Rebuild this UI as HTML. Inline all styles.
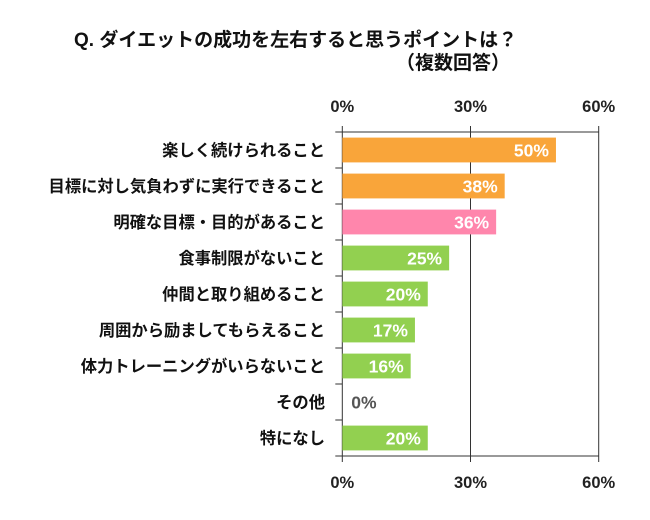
<!DOCTYPE html>
<html><head><meta charset="utf-8"><style>
body{margin:0;background:#fff;}
svg text{font-family:"Liberation Sans","Noto Sans CJK JP",sans-serif;font-weight:bold;}
</style></head><body>
<svg width="650" height="515">
<text x="74" y="46" font-size="19" fill="#111">Q. ダイエットの成功を左右すると思うポイントは？</text>
<text x="396" y="69" font-size="19" fill="#111">（複数回答）</text>
<g id="plot"></g>
</svg>
<script>
const categories=["楽しく続けられること","目標に対し気負わずに実行できること","明確な目標・目的があること","食事制限がないこと","仲間と取り組めること","周囲から励ましてもらえること","体力トレーニングがいらないこと","その他","特になし"];
const values=[50,38,36,25,20,17,16,0,20];
const colors=["#F9A53A","#F9A53A","#FF86AC","#92D050","#92D050","#92D050","#92D050","#92D050","#92D050"];
const ticks=[0,30,60];
const x0=342.3,x1=598.7,yTop=132,yBottom=456,maxV=60;
const rowH=(yBottom-yTop)/categories.length;
const xs=v=>x0+(x1-x0)*v/maxV;
const ns="http://www.w3.org/2000/svg";
const g=document.getElementById('plot');
function mk(t,a){const e=document.createElementNS(ns,t);for(const k in a)e.setAttribute(k,a[k]);g.appendChild(e);return e;}
ticks.forEach(t=>{
 const l=mk('line',{x1:xs(t),x2:xs(t),y1:yTop-6,y2:yBottom+6,stroke:'#333','stroke-width':1});
 
 
 [112,488].forEach((y,i)=>{const tx=mk('text',{x:xs(t),y:y,'text-anchor':'middle','font-size':16.5,fill:'#222'});tx.textContent=t+'%';
 
 });
});
const tl=mk('line',{x1:x0-7,x2:x1,y1:yTop,y2:yTop,stroke:'#333'});


const bl=mk('line',{x1:x0-7,x2:x1,y1:yBottom,y2:yBottom,stroke:'#333'});


categories.forEach((c,i)=>{
 const y=yTop+i*rowH;
 if(i>0){const tk=mk('line',{x1:x0-7,x2:x0,y1:y,y2:y,stroke:'#333'});
 
 }
 const w=xs(values[i])-x0;
 if(w>0){const r=mk('rect',{x:x0,y:y+5.6,width:w,height:rowH-11.2,fill:colors[i]});
 
 }
 const lab=mk('text',{x:325,y:y+rowH/2+6,'text-anchor':'end','font-size':16.3,fill:'#111'});
 lab.textContent=c;
 
 
 const v=values[i]>0?mk('text',{x:xs(values[i])-7,y:y+rowH/2+6.5,'text-anchor':'end','font-size':17.5,fill:'#fff'}):mk('text',{x:x0+9,y:y+rowH/2+6.5,'font-size':17.5,fill:'#555'});
 v.textContent=values[i]+'%';
 
 
});
</script>
</body></html>
